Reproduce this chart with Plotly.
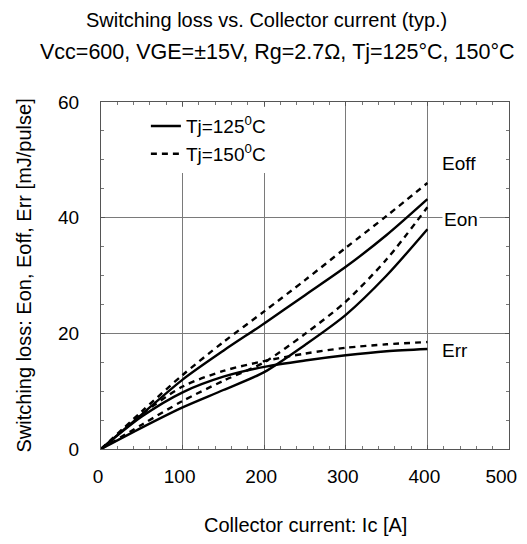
import plotly.graph_objects as go

# ---- data ----
ic = [0, 50, 100, 150, 200, 250, 300, 350, 400]
eoff_125 = [0, 6.0, 12.0, 17.0, 21.7, 26.6, 31.5, 37.0, 43.2]
eoff_150 = [0, 6.5, 12.8, 18.5, 23.8, 29.2, 34.8, 40.3, 46.0]
eon_125 = [0, 3.7, 7.2, 10.2, 13.3, 18.0, 23.2, 30.0, 38.0]
eon_150 = [0, 4.2, 8.3, 11.8, 15.0, 19.9, 25.5, 32.8, 41.8]
err_125 = [0, 5.6, 9.8, 12.5, 14.2, 15.3, 16.2, 16.9, 17.3]
err_150 = [0, 6.0, 10.8, 13.5, 15.2, 16.5, 17.5, 18.1, 18.5]

x_ticks = [0, 100, 200, 300, 400, 500]
x_tick_text = ["0", "100", "200", "300", "400", "500\u2002"]
y_ticks = [0, 20, 40, 60]

curve_labels = ["Eoff", "Eon", "Err"]
label_x = [439, 441, 434]
label_y = [49.4, 39.6, 17.1]

FONT = "Liberation Sans, Arial, sans-serif"
LW = 2.4

fig = go.Figure()

series = [
    (eoff_125, "solid", "Tj=125<sup>0</sup>C", True, "g125"),
    (eoff_150, "6px,5px", "Tj=150<sup>0</sup>C", True, "g150"),
    (eon_125, "solid", "", False, "g125"),
    (eon_150, "6px,5px", "", False, "g150"),
    (err_125, "solid", "", False, "g125"),
    (err_150, "6px,5px", "", False, "g150"),
]
for ys, dash, name, show, grp in series:
    fig.add_trace(go.Scatter(
        x=ic, y=ys, mode="lines", name=name, showlegend=show, legendgroup=grp,
        line=dict(color="black", width=LW, dash=dash, shape="spline", smoothing=0.8),
    ))

for t, lx, ly in zip(curve_labels, label_x, label_y):
    fig.add_annotation(x=lx, y=ly, text=t, showarrow=False, xref="x", yref="y",
                       xanchor="center", yanchor="middle",
                       font=dict(size=19, color="black", family=FONT),
                       bgcolor="white", borderpad=1)

# titles (plot area top edge is at 102 px on the page)
fig.add_annotation(x=0.5, y=1, xref="paper", yref="paper", xanchor="center", yanchor="middle",
                   text="Switching loss vs. Collector current (typ.)", showarrow=False,
                   font=dict(size=20, color="black", family=FONT), yshift=82, xshift=-39)
fig.add_annotation(x=0.5, y=1, xref="paper", yref="paper", xanchor="center", yanchor="middle",
                   text="Vcc=600, VGE=±15V, Rg=2.7Ω, Tj=125°C, 150°C", showarrow=False,
                   font=dict(size=21.5, color="black", family=FONT), yshift=50, xshift=-28)
# axis titles
fig.add_annotation(x=0.5, y=0, xref="paper", yref="paper", xanchor="center", yanchor="middle",
                   text="Collector current: Ic [A]", showarrow=False,
                   font=dict(size=20, color="black", family=FONT), yshift=-76)
fig.add_annotation(x=0, y=0.5, xref="paper", yref="paper", xanchor="center", yanchor="middle",
                   text="Switching loss: Eon, Eoff, Err [mJ/pulse]", showarrow=False, textangle=-90,
                   font=dict(size=20, color="black", family=FONT), xshift=-78)

grid_col = "#7a7a7a"
# the page body adds an 8 px offset, so the figure is made smaller and margins shifted
fig.update_layout(
    width=519, height=528,
    margin=dict(l=93, r=18, t=94, b=87),
    paper_bgcolor="white", plot_bgcolor="white",
    font=dict(family=FONT, size=19, color="black"),
    showlegend=True,
    legend=dict(x=0.11, y=0.985, xanchor="left", yanchor="top",
                bgcolor="white", borderwidth=0, tracegroupgap=0,
                font=dict(size=19, color="black", family=FONT)),
    xaxis=dict(range=[0, 500], tickvals=x_ticks, ticktext=x_tick_text,
               showgrid=True, gridcolor=grid_col, gridwidth=1.2,
               showline=True, linecolor="#555", linewidth=1.2, mirror="allticks",
               ticks="inside", ticklen=4, tickcolor="#555", automargin=False,
               minor=dict(dtick=20, ticks="inside", ticklen=3, tickcolor="#777", showgrid=False),
               ticklabelstandoff=10, ticklabelshift=-3, zeroline=False, tickfont=dict(size=19)),
    yaxis=dict(range=[0, 60], tickvals=y_ticks, showgrid=True, gridcolor=grid_col, gridwidth=1.2,
               showline=True, linecolor="#555", linewidth=1.2, mirror="allticks",
               ticks="inside", ticklen=4, tickcolor="#555", automargin=False,
               minor=dict(dtick=5, ticks="inside", ticklen=3, tickcolor="#777", showgrid=False),
               ticklabelstandoff=17, zeroline=False, tickfont=dict(size=19)),
)

fig.write_html("out.html")
